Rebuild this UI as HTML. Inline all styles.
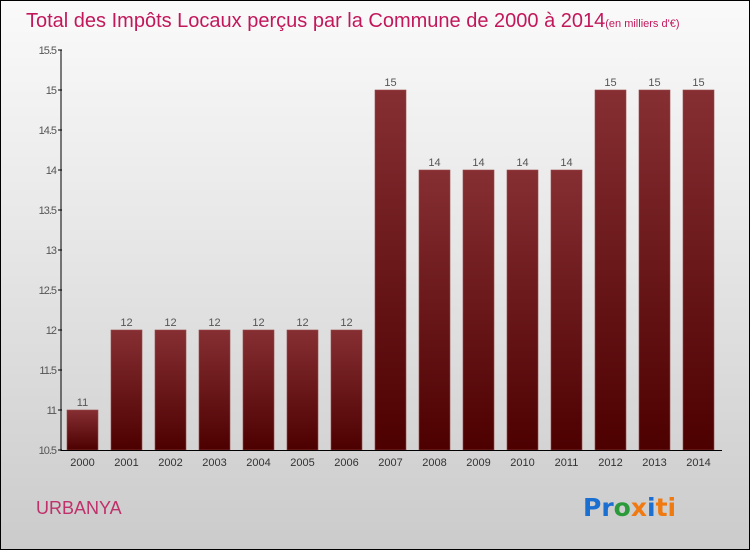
<!DOCTYPE html>
<html><head><meta charset="utf-8"><style>
html,body{margin:0;padding:0}
body{width:750px;height:550px;overflow:hidden;font-family:"Liberation Sans","DejaVu Sans",sans-serif}
#frame{position:absolute;left:0;top:0;width:748px;height:548px;border:1px solid #000;background:linear-gradient(#fafafa,#e6e6e6 45%,#cbcbcb)}
</style></head><body>
<div id="frame">
<svg width="750" height="550" style="position:absolute;left:-1px;top:-1px">
<defs>
<linearGradient id="bg1" x1="0" y1="0" x2="0" y2="1"><stop offset="0" stop-color="#862f33"/><stop offset="1" stop-color="#4d0000"/></linearGradient>
</defs>
<text x="26" y="27" font-size="20" fill="#c2185b" font-weight="300">Total des Impôts Locaux perçus par la Commune de 2000 à 2014<tspan font-size="11">(en milliers d'€)</tspan></text>
<g id="bars"></g>
<g id="axes"></g>
<text x="36" y="514" font-size="18" fill="#c0306a">URBANYA</text>
<text x="583" y="516" font-size="25" font-weight="bold" font-family="'DejaVu Sans',sans-serif"><tspan fill="#1a6fd0">Pr</tspan><tspan fill="#2a9a3a">o</tspan><tspan fill="#f07a10">x</tspan><tspan fill="#1a6fd0">i</tspan><tspan fill="#f07a10">ti</tspan></text>
</svg>
</div>
<script>
const years=["2000","2001","2002","2003","2004","2005","2006","2007","2008","2009","2010","2011","2012","2013","2014"];
const values=[11,12,12,12,12,12,12,15,14,14,14,14,15,15,15];
const yTicks=[10.5,11,11.5,12,12.5,13,13.5,14,14.5,15,15.5];
const yTickLabels=["10.5","11","11.5","12","12.5","13","13.5","14","14.5","15","15.5"];
const NS="http://www.w3.org/2000/svg";
const y=v=>450-(v-10.5)*80;
const x=i=>67+i*44;
const bars=document.getElementById('bars'),axes=document.getElementById('axes');
function mk(t,a,p){const e=document.createElementNS(NS,t);for(const k in a)e.setAttribute(k,a[k]);p.appendChild(e);return e;}
values.forEach((v,i)=>{
 const r=mk('rect',{x:x(i),y:y(v),width:31,height:450-y(v),fill:'url(#bg1)',stroke:'#9a4a4a','stroke-width':0.6},bars);
 
 
 const t=mk('text',{x:x(i)+15.5,y:y(v)-4,'font-size':11,fill:'#555','text-anchor':'middle'},bars);t.textContent=v;
 
 
 const l=mk('text',{x:x(i)+15.5,y:466,'font-size':11,fill:'#333','text-anchor':'middle'},axes);l.textContent=years[i];
 
 
});
yTicks.forEach((v,i)=>{
 mk('line',{x1:58,x2:62,y1:y(v),y2:y(v),stroke:'#000'},axes);
 const t=mk('text',{x:56,y:y(v)+4,'font-size':11,fill:'#555','text-anchor':'end','letter-spacing':'-1'},axes);t.textContent=yTickLabels[i];
 
 
});
const ya=mk('line',{x1:61,x2:61,y1:y(15.5),y2:451,stroke:'#000','stroke-width':1},axes);


const xa=mk('line',{x1:61,x2:722,y1:450.5,y2:450.5,stroke:'#000','stroke-width':1},axes);


</script>
</body></html>
